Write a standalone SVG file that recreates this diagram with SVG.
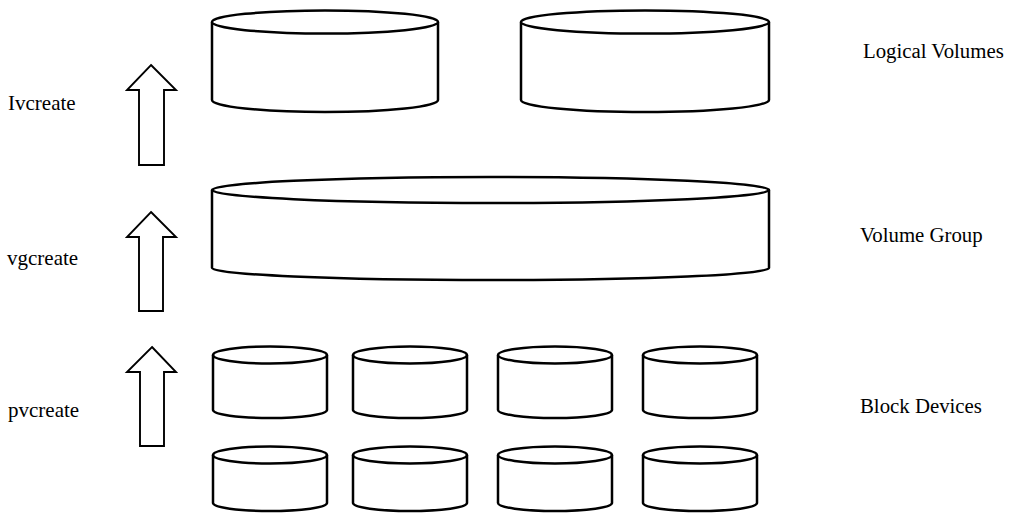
<svg xmlns="http://www.w3.org/2000/svg" width="1015" height="515" viewBox="0 0 1015 515">
<style>
.cyl{fill:#fff;stroke:#000;stroke-width:2.5;stroke-linejoin:round}
.arr{fill:#fff;stroke:#000;stroke-width:1.9;stroke-linejoin:miter}
.lbl{font-family:"Liberation Serif","Times New Roman",serif;font-size:21px;fill:#000}
.rl{font-family:"Liberation Serif","Times New Roman",serif;font-size:20.8px;fill:#000}
</style>
<rect width="1015" height="515" fill="#fff"/>

<g id="lv1">
<path class="cyl" d="M212,22 L212,100 A113,12 0 0 0 438,100 L438,22"/>
<ellipse class="cyl" cx="325" cy="22" rx="113" ry="11.5"/>
</g>
<g id="lv2">
<path class="cyl" d="M521,22 L521,100 A124,12 0 0 0 769,100 L769,22"/>
<ellipse class="cyl" cx="645" cy="22" rx="124" ry="11.5"/>
</g>
<g id="vg">
<path class="cyl" d="M212,190 L212,268 A278.5,12 0 0 0 769,268 L769,190"/>
<ellipse class="cyl" cx="490.5" cy="190" rx="278.5" ry="13"/>
</g>

<g id="bd1"><path class="cyl" d="M213,355 L213,410 A57,8 0 0 0 327,410 L327,355"/><ellipse class="cyl" cx="270" cy="355" rx="57" ry="8.5"/></g>
<g id="bd2"><path class="cyl" d="M353,355 L353,410 A57,8 0 0 0 467,410 L467,355"/><ellipse class="cyl" cx="410" cy="355" rx="57" ry="8.5"/></g>
<g id="bd3"><path class="cyl" d="M498,355 L498,410 A57,8 0 0 0 612,410 L612,355"/><ellipse class="cyl" cx="555" cy="355" rx="57" ry="8.5"/></g>
<g id="bd4"><path class="cyl" d="M643,355 L643,410 A57,8 0 0 0 757,410 L757,355"/><ellipse class="cyl" cx="700" cy="355" rx="57" ry="8.5"/></g>
<g id="bd5"><path class="cyl" d="M213,455 L213,503 A57,8 0 0 0 327,503 L327,455"/><ellipse class="cyl" cx="270" cy="455" rx="57" ry="8.5"/></g>
<g id="bd6"><path class="cyl" d="M353,455 L353,503 A57,8 0 0 0 467,503 L467,455"/><ellipse class="cyl" cx="410" cy="455" rx="57" ry="8.5"/></g>
<g id="bd7"><path class="cyl" d="M498,455 L498,503 A57,8 0 0 0 612,503 L612,455"/><ellipse class="cyl" cx="555" cy="455" rx="57" ry="8.5"/></g>
<g id="bd8"><path class="cyl" d="M643,455 L643,503 A57,8 0 0 0 757,503 L757,455"/><ellipse class="cyl" cx="700" cy="455" rx="57" ry="8.5"/></g>

<g id="connectors">
<polygon class="arr" points="151,65 176,90 164,90 164,165 139,165 139,90 127,90"/>
<polygon class="arr" points="151,212 176,237 163,237 163,311 139,311 139,237 127,237"/>
<polygon class="arr" points="152,347 176,372 164,372 164,446 140,446 140,372 127,372"/>
</g>

<g id="label-lvcreate"><text class="lbl" x="8" y="110">Ivcreate</text></g>
<g id="label-vgcreate"><text class="lbl" x="7" y="265">vgcreate</text></g>
<g id="label-pvcreate"><text class="lbl" x="8" y="417">pvcreate</text></g>
<g id="label-lv"><text class="rl" x="863" y="58">Logical Volumes</text></g>
<g id="label-vg"><text class="rl" x="860" y="242">Volume Group</text></g>
<g id="label-bd"><text class="rl" x="860" y="413">Block Devices</text></g>
</svg>
